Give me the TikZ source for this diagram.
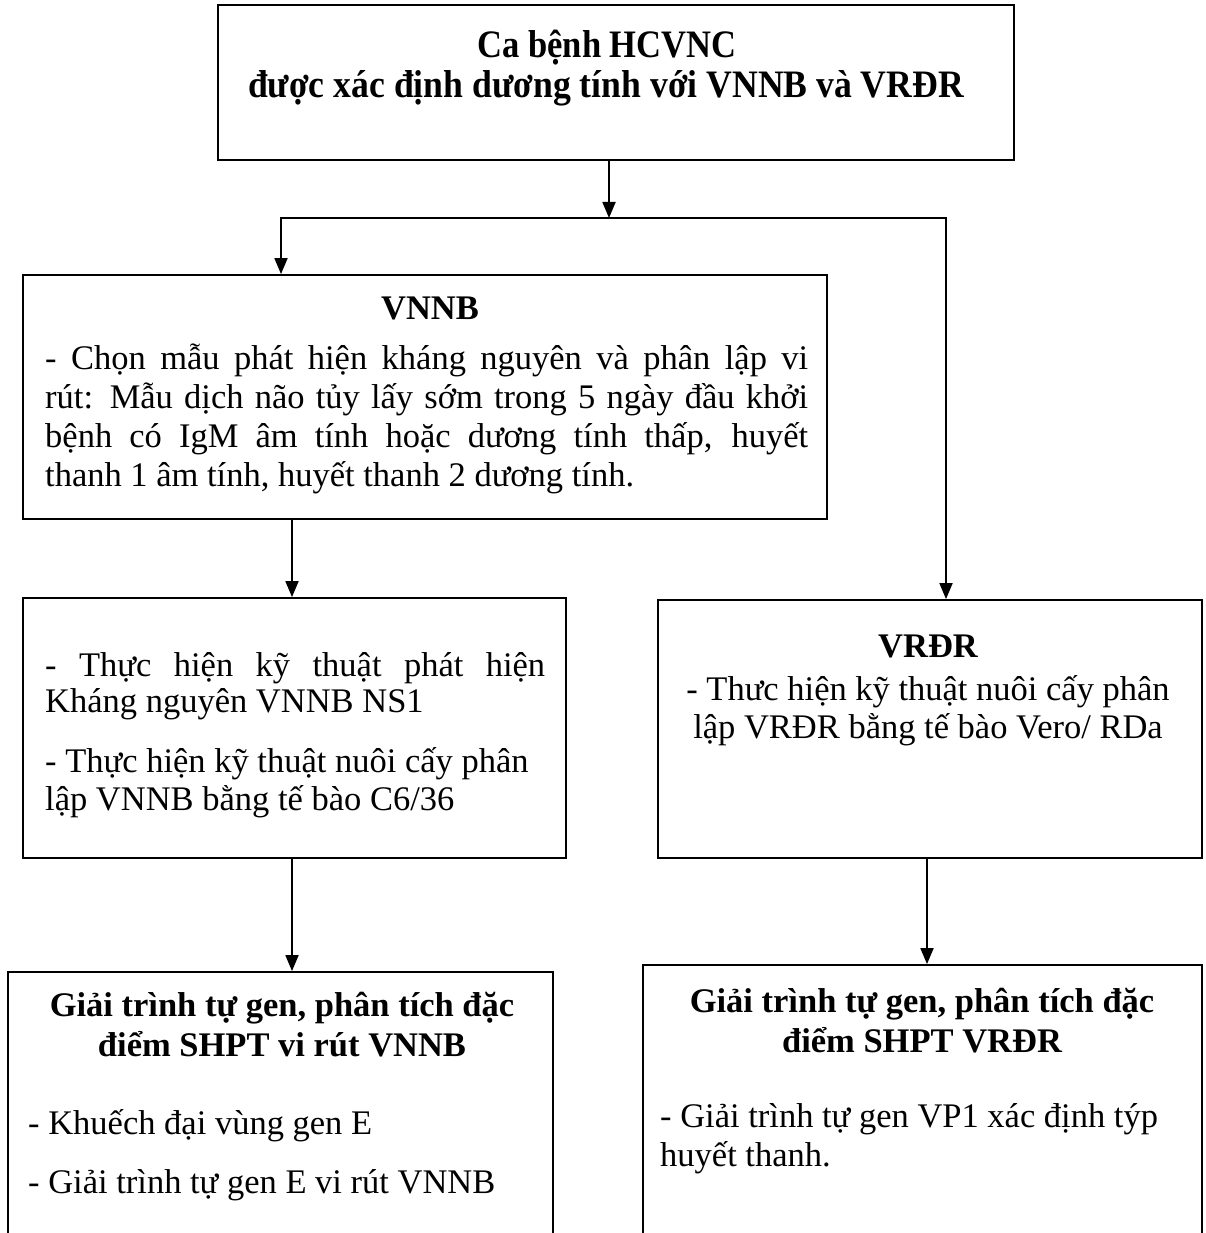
\documentclass[tikz,border=0pt]{standalone}
\usepackage{fontspec}
\setmainfont{Liberation Serif}
\usetikzlibrary{arrows.meta}
\begin{document}
\begin{tikzpicture}[x=1pt,y=-1pt,
  boxstyle/.style={draw=black, line width=1.8pt, rectangle, inner sep=0pt},
  conn/.style={line width=1.8pt, draw=black},
  arr/.style={conn, -{Triangle[length=16pt,width=13pt]}},
  txt/.style={inner sep=0pt, font=\fontsize{34.5}{39}\selectfont},
  ttl/.style={inner sep=0pt, font=\fontsize{34.5}{39}\selectfont\bfseries},
  bigttl/.style={inner sep=0pt, font=\fontsize{36}{36}\selectfont\bfseries},
]
\useasboundingbox (0,0) rectangle (1205,1233);
\fill[white] (0,0) rectangle (1205,1233);
\clip (0,0) rectangle (1205,1233);

% boxes
\node[boxstyle, minimum width=796pt, minimum height=155pt] (top) at (616,82.5) {};
\node[boxstyle, minimum width=804pt, minimum height=244pt] (vnnb) at (425,397) {};
\node[boxstyle, minimum width=543pt, minimum height=260pt] (box2) at (294.5,728) {};
\node[boxstyle, minimum width=544pt, minimum height=258pt] (vrdr) at (930,729) {};
\node[boxstyle, minimum width=545pt, minimum height=288pt] (bl) at (280.5,1116) {};
\node[boxstyle, minimum width=559pt, minimum height=295pt] (br) at (922.5,1112.5) {};

% top box text
\node[bigttl, anchor=base] (t1) at (607,58) {\scalebox{0.96}[1.08]{Ca bệnh HCVNC}};
\node[bigttl, anchor=base] (t2) at (606,98) {\scalebox{0.99}[1.08]{được xác định dương tính với VNNB và VRĐR}};

% VNNB box text
\node[ttl, anchor=base] (v0) at (430,319) {VNNB};
\node[txt, anchor=base west] (v1) at (45,369) {\makebox[763pt][s]{- Chọn mẫu phát hiện kháng nguyên và phân lập vi}};
\node[txt, anchor=base west] (v2) at (45,408) {\makebox[763pt][s]{rút: Mẫu dịch não tủy lấy sớm trong 5 ngày đầu khởi}};
\node[txt, anchor=base west] (v3) at (45,447) {\makebox[763pt][s]{bệnh có IgM âm tính hoặc dương tính thấp, huyết}};
\node[txt, anchor=base west] (v4) at (45,486) {thanh 1 âm tính, huyết thanh 2 dương tính.};

% box 2 text
\node[txt, anchor=base west] (a1) at (45,676) {\makebox[500pt][s]{- Thực hiện kỹ thuật phát hiện}};
\node[txt, anchor=base west] (a2) at (45,712) {Kháng nguyên VNNB NS1};
\node[txt, anchor=base west] (a3) at (45,772) {- Thực hiện kỹ thuật nuôi cấy phân};
\node[txt, anchor=base west] (a4) at (45,810) {lập VNNB bằng tế bào C6/36};

% VRDR text
\node[ttl, anchor=base] (r0) at (928,657) {VRĐR};
\node[txt, anchor=base] (r1) at (928,700) {- Thưc hiện kỹ thuật nuôi cấy phân};
\node[txt, anchor=base] (r2) at (928,738) {lập VRĐR bằng tế bào Vero/ RDa};

% bottom left text
\node[ttl, anchor=base] (b0) at (282,1016) {Giải trình tự gen, phân tích đặc};
\node[ttl, anchor=base] (b1) at (282,1056) {điểm SHPT vi rút VNNB};
\node[txt, anchor=base west] (b2) at (28,1134) {- Khuếch đại vùng gen E};
\node[txt, anchor=base west] (b3) at (28,1193) {- Giải trình tự gen E vi rút VNNB};

% bottom right text
\node[ttl, anchor=base] (c0) at (922,1012) {Giải trình tự gen, phân tích đặc};
\node[ttl, anchor=base] (c1) at (922,1052) {điểm SHPT VRĐR};
\node[txt, anchor=base west] (c2) at (660,1127) {- Giải trình tự gen VP1 xác định týp};
\node[txt, anchor=base west] (c3) at (660,1166) {huyết thanh.};

% connectors
\coordinate (j) at (609,218);
\coordinate (jl) at (281,218);
\coordinate (jr) at (946,218);
\coordinate (xa) at (292,0);
\coordinate (xb) at (927,0);
\draw[arr] (top.south -| j) -- (j);
\draw[arr] (j) -- (jl) -- (jl |- vnnb.north);
\draw[arr] (j) -- (jr) -- (jr |- vrdr.north);
\draw[arr] (vnnb.south -| xa) -- (box2.north -| xa);
\draw[arr] (box2.south -| xa) -- (bl.north -| xa);
\draw[arr] (vrdr.south -| xb) -- (br.north -| xb);
\end{tikzpicture}
\end{document}
